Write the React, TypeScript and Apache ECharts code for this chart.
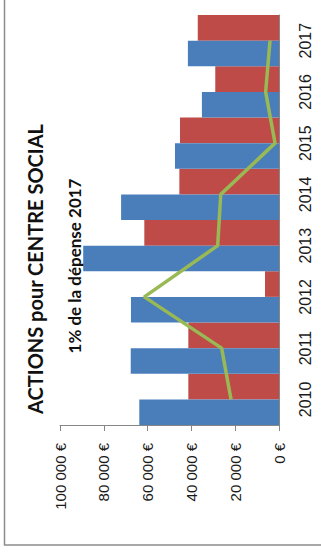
import React, { useEffect, useRef } from "react";
import * as echarts from "echarts";

// Yearly amounts (€) for the social centre
const years = ["2010", "2011", "2012", "2013", "2014", "2015", "2016", "2017"];
const blueValues = [63800, 67700, 67600, 89400, 72100, 47500, 35200, 41600];
const redValues = [41400, 41400, 6400, 61500, 45500, 45200, 29100, 37100];
const lineValues = [21900, 26200, 61500, 28000, 26600, 1800, 6100, 4100];
const valueTicks = [0, 20000, 40000, 60000, 80000, 100000];

const titleText = "ACTIONS pour CENTRE SOCIAL";
const subtitleText = "1% de la dépense 2017";

const fmtEuro = (v: number) =>
  v === 0 ? "0 €" : `${Math.round(v / 1000)} 000 €`;

export default function App() {
  const ref = useRef<HTMLDivElement>(null);

  useEffect(() => {
    document.body.style.margin = "0";
    const chart = echarts.init(ref.current!, undefined, { renderer: "svg" });
    const titleFont = "Lato, 'Liberation Sans', sans-serif";
    const labelFont = "'Liberation Sans', Arial, sans-serif";
    chart.setOption({
      animation: false,
      backgroundColor: "#ffffff",
      textStyle: { fontFamily: labelFont },
      grid: { left: 60, right: 42, top: 15, bottom: 128, containLabel: false },
      xAxis: {
        type: "value",
        inverse: true,
        min: valueTicks[0],
        max: valueTicks[valueTicks.length - 1],
        interval: valueTicks[1] - valueTicks[0],
        position: "bottom",
        axisLine: { show: true, lineStyle: { color: "#868686", width: 1 } },
        axisTick: { show: true, length: 6, lineStyle: { color: "#868686" } },
        splitLine: { show: false },
        axisLabel: {
          rotate: 90,
          margin: 18,
          fontSize: 15,
          color: "#1a1a1a",
          fontFamily: labelFont,
          formatter: (v: number) => fmtEuro(v),
        },
      },
      yAxis: {
        type: "category",
        data: years,
        position: "right",
        axisLine: { show: true, lineStyle: { color: "#868686", width: 1 } },
        axisTick: { show: false },
        axisLabel: {
          rotate: 90,
          margin: 18,
          fontSize: 16,
          color: "#1a1a1a",
          fontFamily: labelFont,
        },
      },
      series: [
        // red drawn first so that blue sits at the lower half of each band
        {
          type: "bar",
          data: redValues,
          itemStyle: { color: "#BE4B48" },
          barGap: "0%",
          barCategoryGap: "0%",
        },
        {
          type: "bar",
          data: blueValues,
          itemStyle: { color: "#4A7EBB" },
          barGap: "0%",
          barCategoryGap: "0%",
        },
        {
          type: "line",
          data: lineValues,
          showSymbol: false,
          symbol: "none",
          lineStyle: { color: "#98B954", width: 3.5 },
          z: 5,
        },
      ],
      graphic: [
        {
          type: "rect",
          shape: { x: 4.5, y: -10, width: 340, height: 555 },
          style: { fill: "none", stroke: "#8c8c8c", lineWidth: 1.5 },
          silent: true,
        },
        {
          type: "text",
          x: 35,
          y: 269,
          rotation: Math.PI / 2,
          style: {
            text: titleText,
            fontFamily: titleFont,
            fontWeight: "bold",
            fontSize: 20,
            fill: "#111111",
            textAlign: "center",
            textVerticalAlign: "middle",
          },
        },
        {
          type: "text",
          x: 74,
          y: 266,
          rotation: Math.PI / 2,
          style: {
            text: subtitleText,
            fontFamily: titleFont,
            fontWeight: "bold",
            fontSize: 17,
            fill: "#111111",
            textAlign: "center",
            textVerticalAlign: "middle",
          },
        },
      ],
    });
    return () => chart.dispose();
  }, []);

  return (
    <div
      ref={ref}
      style={{ position: "fixed", left: 0, top: 0, width: 321, height: 553 }}
    />
  );
}
